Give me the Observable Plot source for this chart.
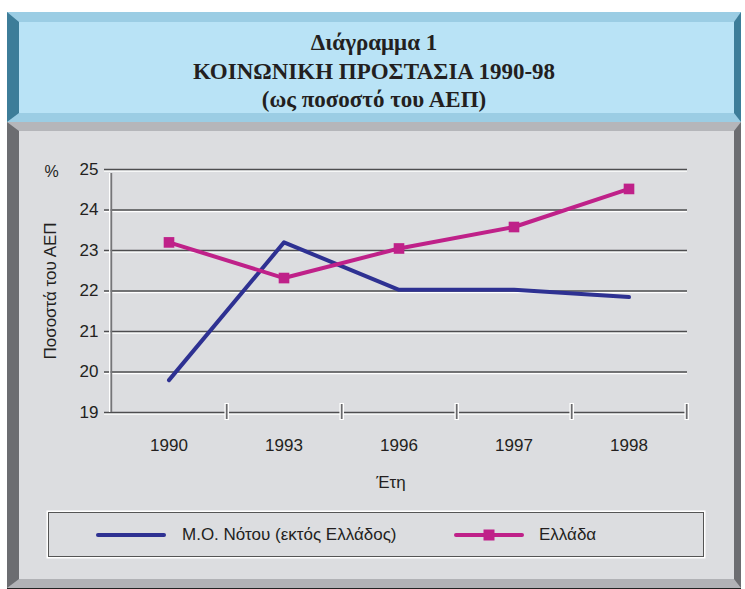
<!DOCTYPE html>
<html>
<head>
<meta charset="utf-8">
<script src="https://cdn.jsdelivr.net/npm/d3@7"></script>
<script src="https://cdn.jsdelivr.net/npm/@observablehq/plot@0.6"></script>
<style>
  html, body { margin: 0; padding: 0; background: #ffffff; }
  #page { position: relative; width: 745px; height: 589px; overflow: hidden; font-family: "Liberation Sans", Arial, sans-serif; color: #231f20; }
  #titlebox { position: absolute; left: 7px; top: 12px; width: 715px; height: 91px;
    border-left: 12px solid #3d7d99; border-right: 7px solid #3d7d99;
    border-top: 10px solid #9bcde4; border-bottom: 9px solid #9bcde4;
    background: #b9e3f6; }
  #title { position: absolute; left: 7px; width: 734px; top: 29px; text-align: center;
    font-family: "Liberation Serif", "Times New Roman", serif; font-weight: bold; font-size: 23px; line-height: 28.5px; color: #231f20; }
  #panel { position: absolute; left: 7px; top: 122px; width: 715px; height: 448px;
    border-left: 12px solid #6c6d71; border-right: 7px solid #6c6d71;
    border-top: 9px solid #b5b6ba; border-bottom: 9px solid #b1b2b6;
    background: #dcdde0; }
  #bottomline { position: absolute; left: 7px; top: 588px; width: 734px; height: 1px; background: #222; }
  #chart { position: absolute; left: 19px; top: 131px; }
  #legend { position: absolute; left: 48px; top: 512px; width: 654px; height: 43px;
    border: 1.5px solid #555; box-shadow: 0 0 0 1.5px #ffffff; }
  .lg-item { position: absolute; top: 0; height: 43px; display: flex; align-items: center; font-size: 17px; }
</style>
</head>
<body>
<div id="page">
  <div id="titlebox"></div>
  <div id="title"></div>
  <div id="panel"></div>
  <div id="bottomline"></div>
  <div id="chart"></div>
  <div id="legend"></div>
</div>
<script>
// ---- data ----
const titleLines = ["Διάγραμμα 1", "ΚΟΙΝΩΝΙΚΗ ΠΡΟΣΤΑΣΙΑ 1990-98", "(ως ποσοστό του ΑΕΠ)"];
const years = ["1990", "1993", "1996", "1997", "1998"];
const southAvg = [19.8, 23.2, 22.03, 22.03, 21.85];
const greece = [23.2, 22.32, 23.05, 23.58, 24.52];
const yTicks = [19, 20, 21, 22, 23, 24, 25];
const seriesNames = ["Μ.Ο. Νότου (εκτός Ελλάδος)", "Ελλάδα"];
const seriesColors = ["#2e3192", "#bf2189"];
const yLabel = "Ποσοστά του ΑΕΠ";
const xLabel = "Έτη";
const unitLabel = "%";

// ---- build ----
document.getElementById("title").innerHTML = titleLines.map(t => `<div>${t}</div>`).join("");

const southData = years.map((y, i) => ({year: y, value: southAvg[i]}));
const greeceData = years.map((y, i) => ({year: y, value: greece[i]}));

const W = 715, H = 375;
const mL = 91, mR = 47, mT = 38, mB = 94;
const bw = (W - mL - mR) / years.length;

const plot = Plot.plot({
  width: W, height: H,
  marginLeft: mL, marginRight: mR, marginTop: mT, marginBottom: mB,
  style: {background: "transparent", fontFamily: "Liberation Sans, Arial, sans-serif", color: "#231f20", overflow: "visible"},
  x: {type: "band", domain: years, padding: 0},
  y: {domain: [19, 25]},
  marks: [
    // gridlines (embossed)
    Plot.ruleY(yTicks, {y: d => d, stroke: "#ffffff", strokeWidth: 1.5, dy: 1.5, insetLeft: -6}),
    Plot.ruleY(yTicks, {y: d => d, stroke: "#4d4d4f", strokeWidth: 1.5, insetLeft: -6}),
    // left axis line
    Plot.ruleX([years[0]], {x: d => d, dx: -bw / 2 - 1.5, y1: 19, y2: 25, stroke: "#ffffff", strokeWidth: 1.5, insetBottom: -4}),
    Plot.ruleX([years[0]], {x: d => d, dx: -bw / 2, y1: 19, y2: 25, stroke: "#757578", strokeWidth: 1.8, insetBottom: -4}),
    // x tick marks at band edges
    Plot.ruleX(years, {x: d => d, dx: bw / 2, y1: 19, y2: 19, insetTop: -9, insetBottom: -8, stroke: "#ffffff", strokeWidth: 4.5}),
    Plot.ruleX(years, {x: d => d, dx: bw / 2, y1: 19, y2: 19, insetTop: -8, insetBottom: -7, stroke: "#6a6a6d", strokeWidth: 1.8}),
    // axes
    Plot.axisY(yTicks, {tickSize: 0, tickPadding: 12, fontSize: 17, label: null}),
    Plot.axisX({tickSize: 0, tickPadding: 26, fontSize: 17, label: null}),
    Plot.text([yLabel], {frameAnchor: "left", textAnchor: "middle", lineAnchor: "middle", rotate: -90, dx: -60, fontSize: 17}),
    Plot.text([xLabel], {frameAnchor: "bottom", dy: 75, dx: -8, fontSize: 17}),
    Plot.text([unitLabel], {frameAnchor: "top-left", textAnchor: "middle", dx: -59, dy: -4, fontSize: 16}),
    // series
    Plot.line(southData, {x: "year", y: "value", stroke: seriesColors[0], strokeWidth: 4}),
    Plot.line(greeceData, {x: "year", y: "value", stroke: seriesColors[1], strokeWidth: 4}),
    Plot.dot(greeceData, {x: "year", y: "value", symbol: "square", r: 6, fill: seriesColors[1], stroke: "none"})
  ]
});
document.getElementById("chart").appendChild(plot);

// legend
const lg = document.getElementById("legend");
const items = [
  {name: seriesNames[0], color: seriesColors[0], marker: false, sx: 46, tx: 133},
  {name: seriesNames[1], color: seriesColors[1], marker: true, sx: 404, tx: 490}
];
items.forEach(it => {
  const sw = document.createElement("div");
  sw.className = "lg-item";
  sw.style.left = it.sx + "px";
  sw.innerHTML = `<svg width="72" height="20"><line x1="3" y1="10" x2="69" y2="10" stroke="${it.color}" stroke-width="4" stroke-linecap="round"/>${it.marker ? `<rect x="30.5" y="4.5" width="11" height="11" fill="${it.color}"/>` : ""}</svg>`;
  lg.appendChild(sw);
  const tx = document.createElement("div");
  tx.className = "lg-item";
  tx.style.left = it.tx + "px";
  tx.textContent = it.name;
  lg.appendChild(tx);
});
</script>
</body>
</html>
